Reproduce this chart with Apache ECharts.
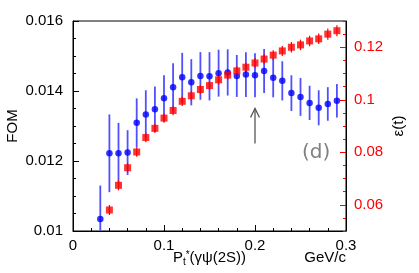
<!DOCTYPE html>
<html><head><meta charset="utf-8">
<script src="https://cdn.jsdelivr.net/npm/echarts@6/dist/echarts.min.js"></script>
<style>html,body{margin:0;padding:0;background:#fff}#c{width:419px;height:273px}</style>
</head><body><div id="c"></div>
<script>
// ---- data ----
const fomBins = [0.03,0.04,0.05,0.06,0.07,0.08,0.09,0.10,0.11,0.12,0.13,0.14,0.15,0.16,0.17,0.18,0.19,0.20,0.21,0.22,0.23,0.24,0.25,0.26,0.27,0.28,0.29];
const fomValues = [0.01034,0.01222,0.01222,0.01224,0.01309,0.01333,0.01348,0.01379,0.01411,0.01439,0.01425,0.01443,0.01442,0.01451,0.01453,0.01443,0.01447,0.01445,0.01457,0.01438,0.01429,0.01394,0.01383,0.01366,0.01352,0.01363,0.01372];
const fomErrors = [0.00096,0.00111,0.00087,0.00064,0.00070,0.00069,0.00065,0.00066,0.00068,0.00070,0.00066,0.00068,0.00069,0.00067,0.00066,0.00060,0.00064,0.00063,0.00063,0.00056,0.00056,0.00051,0.00054,0.00049,0.00050,0.00048,0.00048];
const effBins = [0.04,0.05,0.06,0.07,0.08,0.09,0.10,0.11,0.12,0.13,0.14,0.15,0.16,0.17,0.18,0.19,0.20,0.21,0.22,0.23,0.24,0.25,0.26,0.27,0.28,0.29];
const effValues = [0.0580,0.0674,0.0741,0.0801,0.0856,0.0891,0.0930,0.0959,0.0994,0.1015,0.1039,0.1054,0.1076,0.1094,0.1110,0.1124,0.1140,0.1155,0.1170,0.1186,0.1200,0.1209,0.1224,0.1232,0.1250,0.1263];
const effErrors = [0.0019,0.0019,0.0018,0.0018,0.0018,0.0018,0.0018,0.0018,0.0018,0.0018,0.0018,0.0018,0.0018,0.0018,0.0018,0.0018,0.0019,0.0019,0.0019,0.0019,0.0020,0.0020,0.0020,0.0020,0.0021,0.0021];
const arrowX = 0.2, arrowFrom = 0.0125, arrowTo = 0.0135;
const panelLabel = '(d)';
const unitLabel = 'GeV/c';

const BLUE = '#0000ff', BLUE_BAR = '#5050ff', RED = '#ff0000';
const FONT = '"Liberation Sans", Arial, sans-serif';

function errSeries(xs, ys, es, color, width, yIdx) {
  return {
    type: 'custom', yAxisIndex: yIdx, clip: true, silent: true,
    data: xs.map((x, i) => [x, ys[i], es[i]]),
    encode: { x: 0, y: 1 },
    renderItem: function (params, api) {
      const x = api.value(0), y = api.value(1), e = api.value(2);
      const a = api.coord([x, y - e]), b = api.coord([x, y + e]);
      return { type: 'line', shape: { x1: a[0], y1: a[1], x2: b[0], y2: b[1] },
               style: { stroke: color, lineWidth: width } };
    }
  };
}

const chart = echarts.init(document.getElementById('c'), null, { renderer: 'canvas' });
chart.setOption({
  animation: false,
  grid: { left: 73, right: 73, top: 21, bottom: 42, containLabel: false, outerBoundsMode: 'none',
          show: true, borderColor: '#000', borderWidth: 1, backgroundColor: 'transparent' },
  xAxis: {
    type: 'value', min: 0, max: 0.3, interval: 0.1,
    axisLine: { lineStyle: { color: '#000', width: 1 } },
    axisTick: { inside: true, length: 6, lineStyle: { color: '#000' } },
    minorTick: { show: true, splitNumber: 5, length: 3, lineStyle: { color: '#000' } },
    splitLine: { show: false },
    axisLabel: { color: '#000', fontSize: 15, fontFamily: FONT, margin: 7 },
    name: '{p|P}{sub|t}{sup|*}{p|(γψ(2S))}',
    nameLocation: 'middle', nameGap: 18, nameMoveOverlap: false,
    nameTextStyle: {
      color: '#000', fontFamily: FONT, fontSize: 15,
      rich: {
        p: { fontSize: 15, fontFamily: FONT, color: '#000' },
        sub: { fontSize: 10, fontFamily: FONT, color: '#000', padding: [8, 0, 0, 0] },
        sup: { fontSize: 10, fontFamily: FONT, color: '#000', padding: [0, 0, 6, 0] }
      }
    }
  },
  yAxis: [
    {
      type: 'value', min: 0.01, max: 0.016, interval: 0.002, position: 'left',
      axisLine: { show: true, lineStyle: { color: '#000', width: 1 } },
      axisTick: { inside: true, length: 6, lineStyle: { color: '#000' } },
      minorTick: { show: true, splitNumber: 4, length: 3, lineStyle: { color: '#000' } },
      splitLine: { show: false },
      axisLabel: { color: '#000', fontSize: 15, fontFamily: FONT, margin: 10 },
      name: 'FOM', nameLocation: 'middle', nameRotate: 90, nameGap: 53, nameMoveOverlap: false,
      nameTextStyle: { color: '#000', fontSize: 15, fontFamily: FONT }
    },
    {
      type: 'value', min: 0.05, max: 0.13, splitNumber: 4, position: 'right',
      axisLine: { show: true, lineStyle: { color: '#000', width: 1 } },
      axisTick: { inside: true, length: 6, lineStyle: { color: RED } },
      splitLine: { show: false },
      axisLabel: { color: RED, fontSize: 15, fontFamily: FONT, margin: 8, showMinLabel: false, showMaxLabel: false },
      name: 'ε(t)', nameLocation: 'middle', nameRotate: 90, nameGap: 45, nameMoveOverlap: false,
      nameTextStyle: { color: '#000', fontSize: 15, fontFamily: FONT }
    },
    {
      type: 'value', min: 0.05, max: 0.13, interval: 0.005, position: 'right',
      axisLine: { show: false },
      axisTick: { inside: true, length: 3, lineStyle: { color: RED } },
      splitLine: { show: false },
      axisLabel: { show: false }
    }
  ],
  graphic: [
    { type: 'text', left: 302, top: 143, style: { text: panelLabel, fill: '#808080', font: '20px "DejaVu Sans", sans-serif' } },
    { type: 'text', right: 73, top: 250, style: { text: unitLabel, fill: '#000', font: '15px "Liberation Sans", Arial, sans-serif' } }
  ],
  series: [
    errSeries(fomBins, fomValues, fomErrors, BLUE_BAR, 1.8, 0),
    {
      type: 'scatter', yAxisIndex: 0, symbol: 'circle', symbolSize: 6.5,
      itemStyle: { color: BLUE }, data: fomBins.map((x, i) => [x, fomValues[i]]), z: 3
    },
    errSeries(effBins, effValues, effErrors, RED, 1.2, 1),
    {
      type: 'scatter', yAxisIndex: 1, symbol: 'rect', symbolSize: 7,
      itemStyle: { color: RED }, data: effBins.map((x, i) => [x, effValues[i]]), z: 4
    },
    {
      type: 'custom', yAxisIndex: 0, silent: true,
      data: [[arrowX, arrowFrom, arrowTo]],
      encode: { x: 0, y: 1 },
      renderItem: function (params, api) {
        const a = api.coord([api.value(0), api.value(1)]);
        const b = api.coord([api.value(0), api.value(2)]);
        const st = { stroke: '#555', lineWidth: 1.3, fill: null };
        return { type: 'group', children: [
          { type: 'line', shape: { x1: a[0], y1: a[1], x2: b[0], y2: b[1] }, style: st },
          { type: 'polyline', shape: { points: [[b[0] - 4.5, b[1] + 9], [b[0], b[1]], [b[0] + 4.5, b[1] + 9]] }, style: st }
        ] };
      }
    }
  ]
});
</script></body></html>
